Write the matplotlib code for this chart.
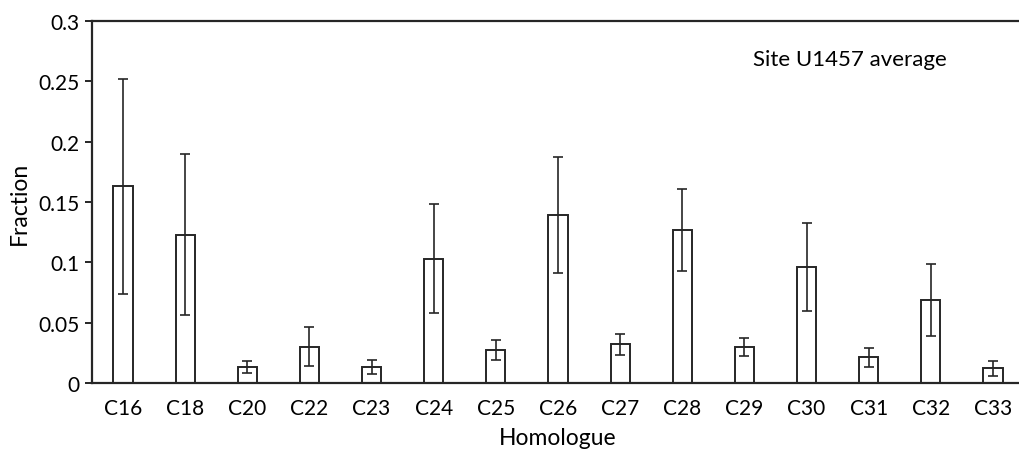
import numpy as np
import matplotlib.pyplot as plt
import matplotlib

matplotlib.rcParams.update({'font.size': 15, 'font.family': ['Lato', 'DejaVu Sans']})

homologues = ['C16', 'C18', 'C20', 'C22', 'C23', 'C24', 'C25', 'C26',
              'C27', 'C28', 'C29', 'C30', 'C31', 'C32', 'C33']
fraction = [0.163, 0.123, 0.0133, 0.030, 0.0133, 0.103, 0.0273, 0.1395,
            0.032, 0.127, 0.0298, 0.096, 0.0213, 0.0688, 0.0122]
fraction_err = [0.089, 0.067, 0.0048, 0.016, 0.006, 0.045, 0.0084, 0.048,
                0.0088, 0.034, 0.0076, 0.0366, 0.0077, 0.030, 0.006]
yticks = [0, 0.05, 0.1, 0.15, 0.2, 0.25, 0.3]
ytick_labels = ['0', '0.05', '0.1', '0.15', '0.2', '0.25', '0.3']

ink = '#262626'

fig = plt.figure(figsize=(10.19, 4.52), dpi=100)
ax = fig.add_axes([92 / 1019, 1 - 384 / 452, 932 / 1019, 362 / 452])

x = np.arange(len(homologues))
ax.bar(x, fraction, width=0.31, color='white', edgecolor=ink, linewidth=1.4)
ax.errorbar(x, fraction, yerr=fraction_err, fmt='none', ecolor=ink,
            elinewidth=1.2, capsize=3.5, capthick=1.2)

ax.set_xlim(-0.5, len(homologues) - 0.5)
ax.set_ylim(0, 0.3)
ax.set_yticks(yticks)
ax.set_yticklabels(ytick_labels)
ax.set_xticks(x)
ax.set_xticklabels(homologues)
ax.tick_params(axis='x', length=0, pad=11)
ax.tick_params(axis='y', length=5, width=1.4, color=ink, pad=4)

for s in ['left', 'bottom', 'top']:
    ax.spines[s].set_color(ink)
    ax.spines[s].set_linewidth(1.6)
ax.spines['right'].set_visible(False)

ax.set_ylabel('Fraction', fontsize=16.5, labelpad=6)
ax.set_xlabel('Homologue', fontsize=16.5, labelpad=6)
ax.text(0.709, 0.894, 'Site U1457 average', transform=ax.transAxes,
        fontsize=16, va='center', ha='left')

plt.savefig('out.png', dpi=100)
